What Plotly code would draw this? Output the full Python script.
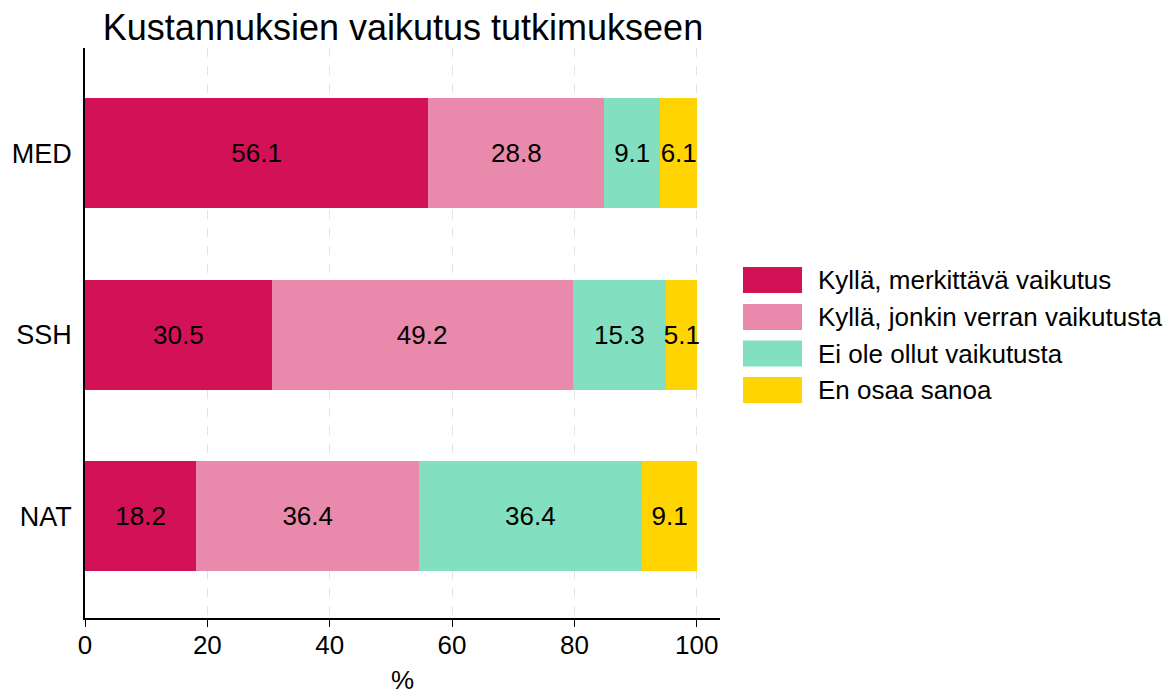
import plotly.graph_objects as go

categories = ["NAT", "SSH", "MED"]
series_names = ["Kyllä, merkittävä vaikutus", "Kyllä, jonkin verran vaikutusta",
                "Ei ole ollut vaikutusta", "En osaa sanoa"]
s1 = [18.2, 30.5, 56.1]
s2 = [36.4, 49.2, 28.8]
s3 = [36.4, 15.3, 9.1]
s4 = [9.1, 5.1, 6.1]
colors = ["#D31157", "#E989AC", "#82E0C1", "#FFD400"]
tick_vals = [0, 20, 40, 60, 80, 100]

FONT = "Liberation Sans, Arial"
OFF = 8  # page body margin
fig = go.Figure()
for name, vals, col in zip(series_names, [s1, s2, s3, s4], colors):
    fig.add_trace(go.Bar(
        y=categories, x=vals, name=name, orientation="h",
        marker=dict(color=col, line=dict(width=0)),
        text=[f"{v:.1f}" for v in vals], textposition="inside", textangle=0,
        insidetextanchor="middle", constraintext="none",
        textfont=dict(color="black", size=26, family=FONT),
        width=0.605, showlegend=False,
    ))

W, H = 1171 - OFF, 695 - OFF
PL, PR, PT, PB = 85 - OFF, 720 - OFF, 48 - OFF, 618 - OFF
leg_x0, leg_x1, leg_tx = 743 - OFF, 802 - OFF, 816 - OFF
row_y = [280 - OFF, 317 - OFF, 353.5 - OFF, 390 - OFF]
for name, col, yc in zip(series_names, colors, row_y):
    fig.add_shape(type="rect", xref="paper", yref="paper",
                  x0=(leg_x0 - PL) / (PR - PL), x1=(leg_x1 - PL) / (PR - PL),
                  y0=(PB - (yc + 13)) / (PB - PT), y1=(PB - (yc - 13)) / (PB - PT),
                  fillcolor=col, line=dict(width=0))
    fig.add_annotation(text=name, xref="paper", yref="paper",
                       x=(leg_tx - PL) / (PR - PL), y=(PB - yc) / (PB - PT),
                       xanchor="left", yanchor="middle", showarrow=False,
                       font=dict(size=26, color="black", family=FONT))

fig.update_layout(
    barmode="stack",
    width=W, height=H,
    margin=dict(l=PL, r=W - PR, t=PT, b=H - PB, autoexpand=False),
    paper_bgcolor="white", plot_bgcolor="white",
    title=dict(text="Kustannuksien vaikutus tutkimukseen", x=(403 - OFF) / W, xanchor="center",
               y=1 - (27 - OFF) / H, yanchor="middle", automargin=False,
               font=dict(size=36, color="black", family=FONT)),
    font=dict(family=FONT, color="black"),
    uniformtext=dict(minsize=26, mode="show"),
    xaxis=dict(range=[0, 103.8], tickvals=tick_vals, ticks="outside", ticklen=7,
               tickcolor="black", showline=True, linecolor="black", linewidth=1.5,
               showgrid=True, gridcolor="#e3e3e3", griddash="dash", gridwidth=1,
               zeroline=False, tickfont=dict(size=26), automargin=False,
               ticklabelstandoff=-4,
               title=dict(text="%", font=dict(size=26), standoff=17)),
    yaxis=dict(categoryorder="array", categoryarray=categories, range=[-0.56, 2.58],
               showline=True, linecolor="black", linewidth=1.5, showgrid=False,
               ticks="", tickfont=dict(size=27), ticklabelstandoff=6, automargin=False),
)

fig.write_html("out.html")
